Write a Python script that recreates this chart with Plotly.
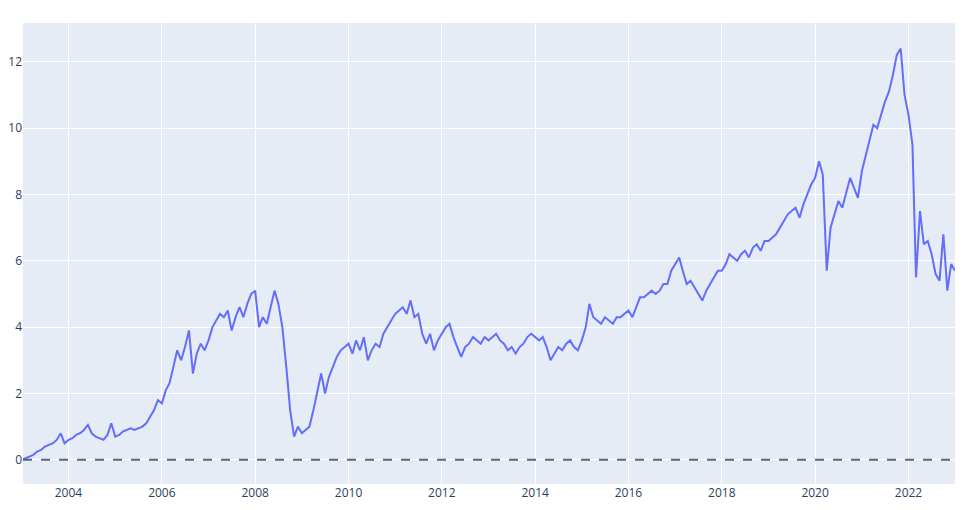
import pandas as pd
import plotly.graph_objects as go

values_by_year = {
    2003: [0.0,0.05,0.1,0.15,0.25,0.3,0.4,0.45,0.5,0.6,0.8,0.5],
    2004: [0.6,0.65,0.75,0.8,0.9,1.05,0.8,0.7,0.65,0.6,0.75,1.1],
    2005: [0.7,0.75,0.85,0.9,0.95,0.9,0.95,1.0,1.1,1.3,1.5,1.8],
    2006: [1.7,2.1,2.3,2.8,3.3,3.0,3.4,3.9,2.6,3.2,3.5,3.3],
    2007: [3.6,4.0,4.2,4.4,4.3,4.5,3.9,4.3,4.6,4.3,4.7,5.0],
    2008: [5.1,4.0,4.3,4.1,4.6,5.1,4.7,4.0,2.8,1.5,0.7,1.0],
    2009: [0.8,0.9,1.0,1.5,2.0,2.6,2.0,2.5,2.8,3.1,3.3,3.4],
    2010: [3.5,3.2,3.6,3.3,3.7,3.0,3.3,3.5,3.4,3.8,4.0,4.2],
    2011: [4.4,4.5,4.6,4.4,4.8,4.3,4.4,3.8,3.5,3.8,3.3,3.6],
    2012: [3.8,4.0,4.1,3.7,3.4,3.1,3.4,3.5,3.7,3.6,3.5,3.7],
    2013: [3.6,3.7,3.8,3.6,3.5,3.3,3.4,3.2,3.4,3.5,3.7,3.8],
    2014: [3.7,3.6,3.7,3.4,3.0,3.2,3.4,3.3,3.5,3.6,3.4,3.3],
    2015: [3.6,4.0,4.7,4.3,4.2,4.1,4.3,4.2,4.1,4.3,4.3,4.4],
    2016: [4.5,4.3,4.6,4.9,4.9,5.0,5.1,5.0,5.1,5.3,5.3,5.7],
    2017: [5.9,6.1,5.7,5.3,5.4,5.2,5.0,4.8,5.1,5.3,5.5,5.7],
    2018: [5.7,5.9,6.2,6.1,6.0,6.2,6.3,6.1,6.4,6.5,6.3,6.6],
    2019: [6.6,6.7,6.8,7.0,7.2,7.4,7.5,7.6,7.3,7.7,8.0,8.3],
    2020: [8.5,9.0,8.6,5.7,7.0,7.4,7.8,7.6,8.1,8.5,8.2,7.9],
    2021: [8.7,9.2,9.6,10.1,10.0,10.4,10.8,11.1,11.6,12.2,12.4,11.0],
    2022: [10.4,9.5,5.5,7.5,6.5,6.6,6.2,5.6,5.4,6.8,5.1,5.9],
}
final_date = "2022-12-31"
final_value = 5.7

dates, vals = [], []
for yr, arr in values_by_year.items():
    for m, v in enumerate(arr, start=1):
        dates.append(f"{yr}-{m:02d}-01")
        vals.append(v)
dates.append(final_date)
vals.append(final_value)

fig = go.Figure(go.Scatter(x=pd.to_datetime(dates), y=vals, mode="lines",
                           line=dict(color="#636efa", width=2), showlegend=False))
fig.add_hline(y=0, line_dash="dash", line_color="#5f6478", line_width=2)
fig.update_layout(
    template="plotly",
    margin=dict(l=15, r=14, t=15, b=18),
    xaxis=dict(range=["2003-01-10", "2022-12-31"], dtick="M24", tick0="2004-01-01",
               tickformat="%Y", showgrid=True, automargin=False),
    yaxis=dict(range=[-0.73, 13.17], dtick=2, zeroline=False, automargin=False),
)
fig.write_html("out.html", default_width="100%", default_height="100%")
